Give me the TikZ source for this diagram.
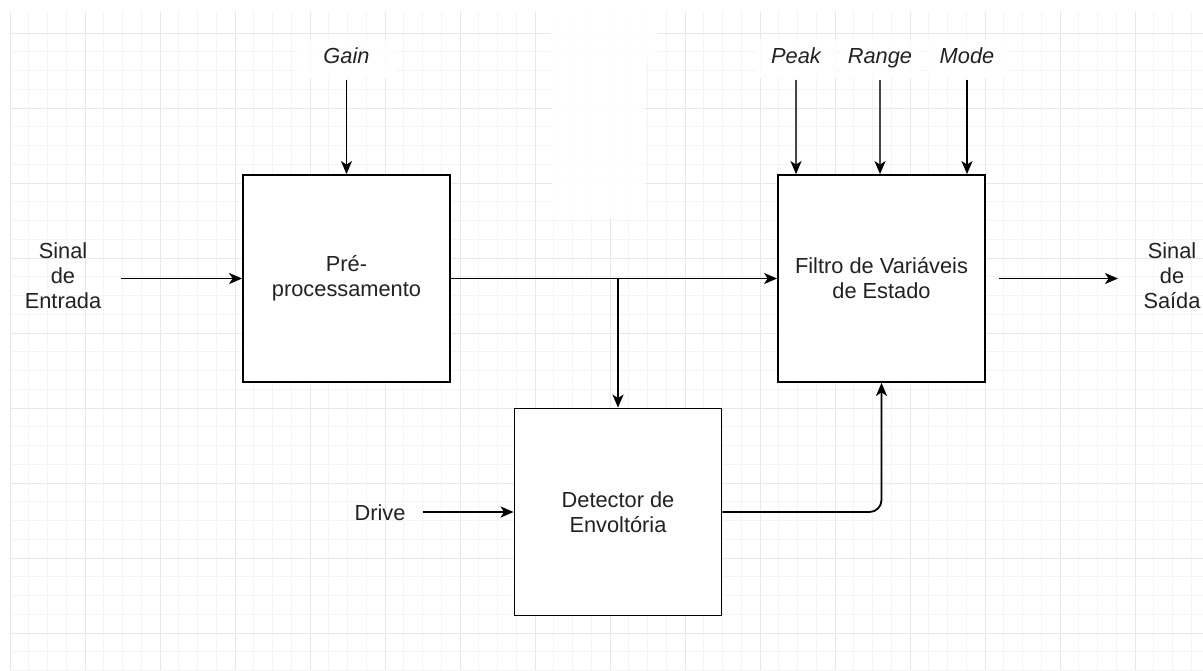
\documentclass[tikz,border=0pt]{standalone}
\usepackage{fontspec}
\setmainfont{Liberation Sans}
\usetikzlibrary{arrows.meta}
\definecolor{gridminor}{HTML}{F4F4F4}
\definecolor{gridmajor}{HTML}{E8E8E8}
\definecolor{txt}{HTML}{222222}
\begin{document}
\begin{tikzpicture}[x=1pt,y=-1pt,
  blk/.style={draw=black,line width=1.8pt,fill=white,minimum width=207pt,minimum height=207pt,inner sep=0pt,align=center,text=txt,font=\fontsize{21.8}{25}\selectfont},
  lbl/.style={align=center,text=txt,inner sep=2pt,font=\fontsize{21.8}{25}\selectfont},
  param/.style={fill=white,fill opacity=0.85,text opacity=1,text=txt,minimum width=80pt,text height=16pt,text depth=5pt,inner ysep=9pt,inner xsep=0pt,font=\fontsize{21.8}{25}\selectfont\itshape},
  conn/.style={line width=1.8pt,-{Stealth[length=13pt,width=11pt,inset=3.5pt]}},
  gconn/.style={line width=1.8pt,draw=black!72,-{Stealth[length=13pt,width=11pt,inset=3.5pt,color=black]}},
  gmin/.style={draw=gridminor,line width=0.8pt},
  gmaj/.style={draw=gridmajor,line width=1pt}]
\useasboundingbox (0,0) rectangle (1203,670);
\fill[white] (0,0) rectangle (1203,670);
% grid
\foreach \k in {0,...,63} { \draw[gmin] (10+\k*18.75,12) -- (10+\k*18.75,670); }
\foreach \k in {0,...,34} { \draw[gmin] (10,33+\k*18.75) -- (1203,33+\k*18.75); }
\foreach \k in {0,...,15} { \draw[gmaj] (10+\k*75,12) -- (10+\k*75,670); }
\foreach \k in {0,...,8} { \draw[gmaj] (10,33+\k*75) -- (1203,33+\k*75); }
% blank white patch
\fill[white,opacity=0.9] (550,12) rectangle (658,58);
\fill[white,opacity=0.9] (552,58) rectangle (645,218);
% blocks
\node[blk] (pre) at (346.5,278.5) {Pré-\\processamento};
\node[blk] (filt) at (881.5,278.5) {Filtro de Variáveis\\de Estado};
\node[blk] (det) at (618,512) {Detector de\\Envoltória};
% parameters
\node[param,minimum width=100pt] (gain) at (346.5,58) {Gain};
\node[param] (peak) at (796,58) {Peak};
\node[param] (range) at (880,58) {Range};
\node[param] (mode) at (967,58) {Mode};
% io labels
\node[lbl] (in) at (63,276) {Sinal\\de\\Entrada};
\node[lbl] (out) at (1172,276) {Sinal\\de\\Saída};
\node[lbl] (drive) at (380,513) {Drive};
\coordinate (inS) at (121,278.5);
\coordinate (outE) at (1118,278.5);
\coordinate (br) at (618,278.5);
% connectors
\draw[conn,shorten <=2.5pt] (gain.south) -- (gain.south |- pre.north);
\draw[gconn,shorten <=2.5pt] (peak.south) -- (peak.south |- filt.north);
\draw[gconn,shorten <=2.5pt] (range.south) -- (range.south |- filt.north);
\draw[conn,shorten <=2.5pt] (mode.south) -- (mode.south |- filt.north);
\draw[conn] (inS) -- (pre.west);
\draw[conn] (pre.east) -- (filt.west);
\draw[conn] (br) -- (det.north);
\draw[conn,shorten <=13pt] (filt.east) -- (outE);
\draw[conn,shorten <=15pt] (drive.east |- det.west) -- (det.west);
\draw[conn,rounded corners=12pt] (det.east) -| (filt.south);
\end{tikzpicture}
\end{document}
